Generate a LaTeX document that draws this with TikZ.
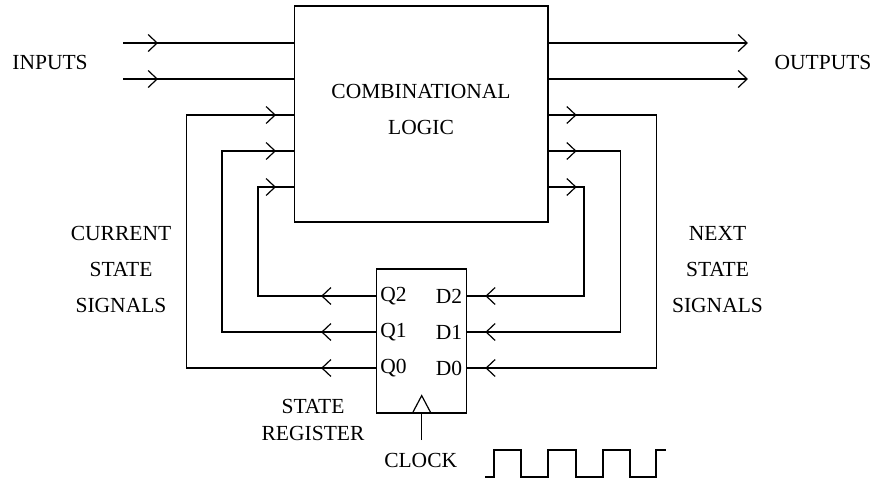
\documentclass[tikz,border=0pt]{standalone}
\usepackage{fontspec}
\setmainfont{Liberation Serif}
\usetikzlibrary{arrows.meta,decorations.markings,positioning}

\tikzset{
  barb/.tip={Straight Barb[length=9pt,width=17pt]},
  wire/.style={line width=1.2pt},
  tipat/.style={postaction={decorate,decoration={markings,
      mark=at position #1 with {\arrow{barb}}}}},
  box/.style={draw, line width=1.2pt, inner sep=0pt},
  txt/.style={font=\fontsize{21.5}{36}\selectfont, inner sep=0pt, align=center},
}

\begin{document}
\begin{tikzpicture}[x=1pt, y=-1pt]
	\useasboundingbox (0,0) rectangle (871,483);

	%% combinational logic block
	\node[box, minimum width=253.5pt, minimum height=216pt](logic) at (421.3,114){};
	\node[txt](logic_text) at (421,109){COMBINATIONAL\\LOGIC};

	%% state register and its pins
	\node[box, minimum width=90pt, minimum height=144pt](reg) at (421.7,341){};
	\node[txt](q2) at (393.5,296){Q2};
	\node[txt](q1) at (393.5,332){Q1};
	\node[txt](q0) at (393.5,368){Q0};
	\node[txt](d2) at (449,296){D2};
	\node[txt](d1) at (449,332){D1};
	\node[txt](d0) at (449,368){D0};

	%% inputs and outputs
	\coordinate (in_a) at (123,43);
	\coordinate (in_b) at (123,79);
	\coordinate (out_a) at (748,43);
	\coordinate (out_b) at (748,79);

	\draw[wire, tipat=35pt] (in_a) -- (in_a -| logic.west);
	\draw[wire, tipat=35pt] (in_b) -- (in_b -| logic.west);
	\draw[wire, -barb] (out_a -| logic.east) -- (out_a);
	\draw[wire, -barb] (out_b -| logic.east) -- (out_b);

	\node[txt](inputs) at (50,62.5){INPUTS};
	\node[txt](outputs) at (823,62.5){OUTPUTS};

	%% current state signals
	\draw[wire, tipat=55pt, tipat=-18pt] (q2 -| reg.west) -| (258,187) -- (logic.west |- 0,187);
	\draw[wire, tipat=55pt, tipat=-18pt] (q1 -| reg.west) -| (222,151) -- (logic.west |- 0,151);
	\draw[wire, tipat=55pt, tipat=-18pt] (q0 -| reg.west) -| (186.7,115) -- (logic.west |- 0,115);

	\node[txt](current) at (121,269.7){CURRENT\\STATE\\SIGNALS};

	%% next state signals
	\draw[wire, tipat=28pt, tipat=-18pt] (logic.east |- 0,187) -| (584,296) -- (d2 -| reg.east);
	\draw[wire, tipat=28pt, tipat=-18pt] (logic.east |- 0,151) -| (620.7,332) -- (d1 -| reg.east);
	\draw[wire, tipat=28pt, tipat=-18pt] (logic.east |- 0,115) -| (656.7,368) -- (d0 -| reg.east);

	\node[txt](next) at (717.5,269.7){NEXT\\STATE\\SIGNALS};

	%% clock input
	\draw[wire] ([xshift=-9.5pt]reg.south) -- ([yshift=18pt]reg.south) -- ([xshift=9.5pt]reg.south);
	\coordinate (clk) at (421.7,440);
	\draw[wire] (clk) -- (reg.south);

	\node[txt, font=\fontsize{21.5}{27.5}\selectfont](state_reg) at (313,420){STATE\\REGISTER};
	\node[txt](clock) at (420.7,460.5){CLOCK};

	%% clock waveform
	\draw[wire] (485,477) -- (494,477) -- (494,450) -- (521,450) -- (521,477) -- (548,477)
		-- (548,450) -- (576,450) -- (576,477) -- (603,477) -- (603,450) -- (630,450)
		-- (630,477) -- (656,477) -- (656,450) -- (666,450);

\end{tikzpicture}
\end{document}
